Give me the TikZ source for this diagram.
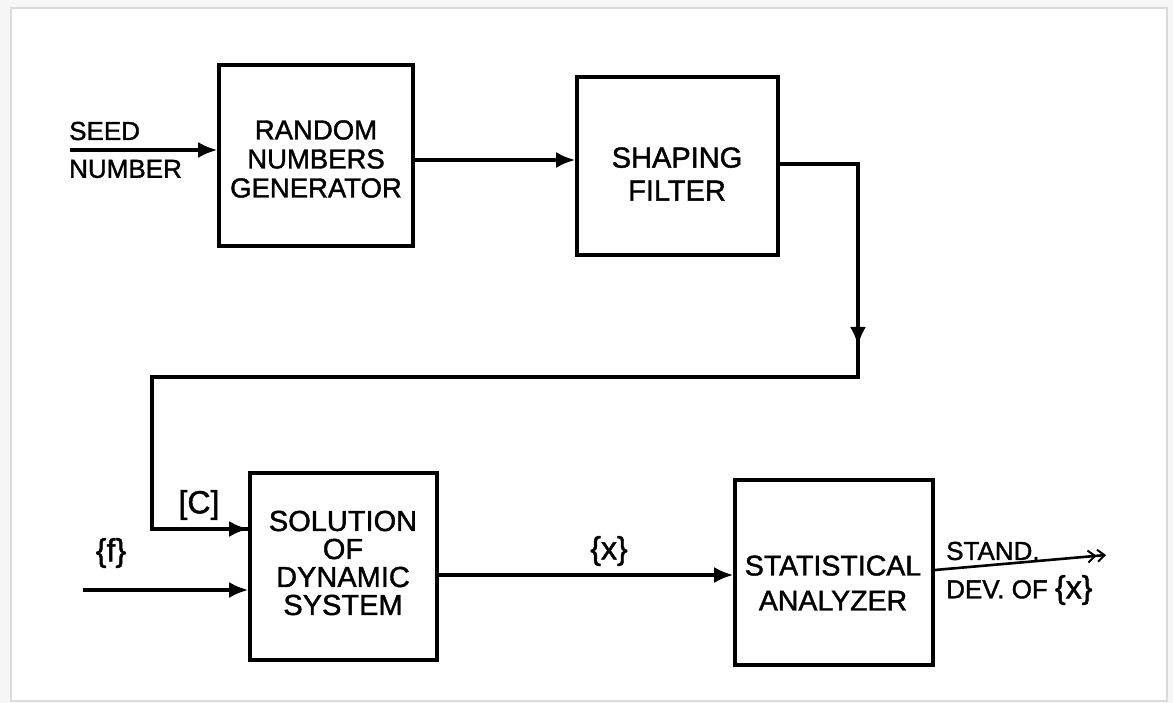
\documentclass[tikz,border=0pt]{standalone}
\usepackage{fontspec}
\setmainfont{Liberation Sans}
\newfontfamily\heavysans{Liberation Sans}[FakeBold=1.4]
\usetikzlibrary{arrows.meta,calc}

\tikzset{
  blk/.style={draw, line width=3.6pt, rectangle, inner sep=0pt},
  txt/.style={align=center, inner sep=0pt, font=\heavysans\fontsize{27.5}{29}\selectfont},
  lbl/.style={inner sep=0pt, font=\heavysans\fontsize{26}{29}\selectfont},
  brk/.style={inner sep=0pt, font=\heavysans\fontsize{32}{32}\selectfont},
  wire/.style={line width=3.4pt},
  arr/.style={line width=3.4pt, -{Latex[length=19pt,width=16pt]}},
  outarr/.style={line width=2.6pt, -{Straight Barb[length=7pt,width=12pt,line width=2pt] Straight Barb[length=7pt,width=12pt,line width=2pt]}}
}

\begin{document}
\begin{tikzpicture}[x=1pt,y=-1pt]
  % page and sheet
  \useasboundingbox (0,0) rectangle (1173,703);
  \fill[gray!7] (0,0) rectangle (1173,703);
  \filldraw[fill=white, draw=gray!28, line width=1.6pt] (11,8) rectangle (1167,701);

  % blocks
  \node[blk, minimum width=194pt, minimum height=181pt] (rng) at (316,155.5) {};
  \node[txt] (rngt) at (316,159) {RANDOM\\NUMBERS\\GENERATOR};

  \node[blk, minimum width=201pt, minimum height=178pt] (sf) at (677.5,166) {};
  \node[txt, font=\heavysans\fontsize{29}{33}\selectfont] (sft) at (677,174) {SHAPING\\FILTER};

  \node[blk, minimum width=187pt, minimum height=187pt] (sol) at (343.5,566.5) {};
  \node[txt, font=\heavysans\fontsize{29}{28}\selectfont] (solt) at (343,563) {SOLUTION\\OF\\DYNAMIC\\SYSTEM};

  \node[blk, minimum width=198pt, minimum height=185pt] (stat) at (834,572.5) {};
  \node[txt, font=\heavysans\fontsize{28.5}{35}\selectfont] (statt) at (833,583) {STATISTICAL\\ANALYZER};

  % free ends and bends
  \coordinate (seed) at (70,150);
  \coordinate (fin) at (83,590);
  \coordinate (drop) at (858,346);
  \coordinate (k1) at (858,377);
  \coordinate (k2) at (152,377);
  \coordinate (out) at (1106,555);

  % connectors
  \draw[arr] (seed) -- (seed -| rng.west);
  \draw[arr] ([yshift=-4.5pt]rng.east) -- ([yshift=-4.5pt]rng.east -| sf.west);
  \draw[arr] ([yshift=2pt]sf.east) -| (drop);
  \draw[wire] ([yshift=6pt]drop) -- (k1) -- (k2) |- ([yshift=37.5pt]sol.west);
  \draw[arr] ([yshift=37.5pt]sol.west -| k2) -- ([yshift=37.5pt]sol.west);
  \draw[arr] (fin) -- (fin -| sol.west);
  \draw[arr] ([yshift=-8.5pt]sol.east) -- ([yshift=-8.5pt]sol.east -| stat.west);
  \draw[outarr] ([yshift=2.5pt]stat.east) -- (out);

  % signal labels
  \node[lbl, anchor=west] (seedl) at (69,131) {SEED};
  \node[lbl, anchor=west] (numl) at (69,169) {NUMBER};
  \node[brk] (cl) at (199,505) {[C]};
  \node[brk] (fl) at (111,553) {\{f\}};
  \node[brk] (xl) at (609,551) {\{x\}};
  \node[lbl, anchor=west] (standl) at (946,551) {STAND.};
  \node[lbl, anchor=west] (devl) at (946,590) {DEV. OF \fontsize{32}{32}\selectfont\{x\}};
\end{tikzpicture}
\end{document}
